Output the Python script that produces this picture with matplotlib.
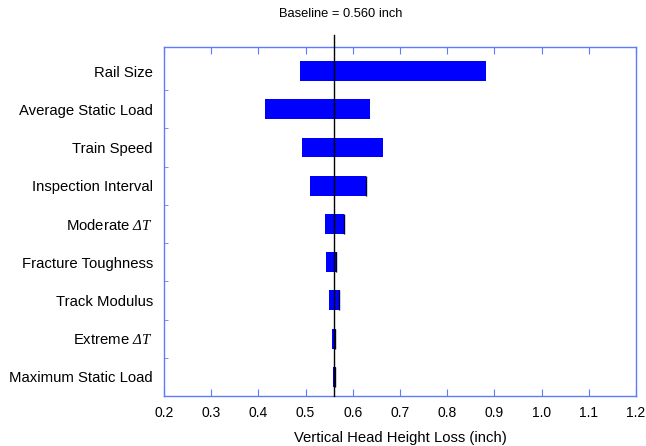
import numpy as np
import matplotlib
matplotlib.use("Agg")
import matplotlib.pyplot as plt
from matplotlib.transforms import offset_copy

plt.rcParams["font.family"] = ["Liberation Sans", "DejaVu Sans"]
plt.rcParams["mathtext.fontset"] = "custom"
plt.rcParams["mathtext.it"] = "Liberation Serif:italic"
plt.rcParams["mathtext.rm"] = "Liberation Serif:italic"

# --- Daten --------------------------------------------------------------
labels = [
    "Rail Size",
    "Average Static Load",
    "Train Speed",
    "Inspection Interval",
    r"Moderate $\mathit{\Delta T}$",
    "Fracture Toughness",
    "Track Modulus",
    r"Extreme $\mathit{\Delta T}$",
    "Maximum Static Load",
]
low = [0.488, 0.413, 0.493, 0.509, 0.541, 0.543, 0.550, 0.556, 0.559]
high = [0.883, 0.636, 0.663, 0.629, 0.582, 0.566, 0.572, 0.564, 0.564]
dark_edge = [False, False, False, True, True, True, True, True, True]
baseline = 0.560

spine_col = "#5c7cff"

fig = plt.figure(figsize=(6.46, 4.46), dpi=100)
ax = fig.add_axes([164 / 646, 1 - 396 / 446, (636 - 164) / 646, (396 - 47) / 446])

y = np.arange(len(labels))
ax.barh(y, np.array(high) - np.array(low), left=low, height=0.52,
        color="#0000ff", edgecolor="none", zorder=2)

# dunkle Kante rechts bei einigen Balken
for yi, hi, d in zip(y, high, dark_edge):
    if d:
        ax.plot([hi - 0.0015, hi - 0.0015], [yi - 0.26, yi + 0.26],
                color="#000040", lw=1.0, solid_capstyle="butt", zorder=3)

# Baseline-Linie, ragt oben aus dem Plot heraus
ax.plot([baseline, baseline], [8.5, -0.95], color="black", lw=1,
        clip_on=False, zorder=4)
ax.text(baseline, -1.33, f"Baseline = {baseline:.3f} inch",
        ha="center", va="bottom", fontsize=9.3,
        transform=offset_copy(ax.transData, fig=fig, x=7, y=0, units="dots"))

ax.set_xlim(0.2, 1.2)
ax.set_ylim(8.5, -0.63)
ax.set_xticks(np.arange(0.2, 1.21, 0.1))
ax.set_xticklabels([f"{v:.1f}" for v in np.arange(0.2, 1.21, 0.1)], fontsize=10)
ax.set_yticks(y)
ax.set_yticklabels(labels, fontsize=10.7)
ax.set_yticks(np.arange(0.5, 8, 1), minor=True)
ax.tick_params(axis="y", which="major", length=0, pad=8)
ax.tick_params(axis="y", which="minor", direction="in", length=3,
               color=spine_col, left=True)
ax.tick_params(axis="x", direction="in", length=5, color=spine_col,
               top=True, bottom=True, pad=7)
ax.set_xlabel("Vertical Head Height Loss (inch)", fontsize=10.7, labelpad=8)

for s in ax.spines.values():
    s.set_color(spine_col)
    s.set_linewidth(1)

fig.savefig("out.png", dpi=100)
plt.close(fig)
